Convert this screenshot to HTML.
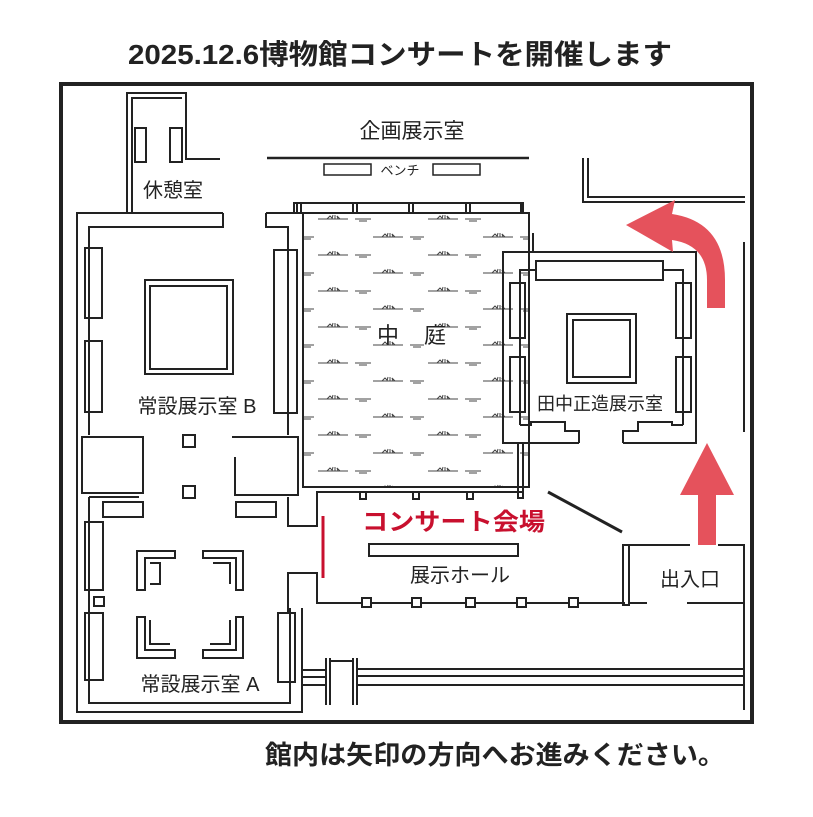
<!DOCTYPE html>
<html><head><meta charset="utf-8"><style>
html,body{margin:0;padding:0;background:#fff;}
svg{display:block}
text{font-family:"Liberation Sans","Noto Sans CJK JP",sans-serif;fill:#222}
</style></head><body>
<svg width="813" height="817" viewBox="0 0 813 817" xmlns="http://www.w3.org/2000/svg">
<defs>
<pattern id="grass" x="315" y="210" width="110" height="36" patternUnits="userSpaceOnUse">
 <g stroke="#444" stroke-width="1" fill="none">
  <path d="M3 9h30M40 9h16M44 11h8"/>
  <path d="M12 9l3-3l2 2M17 9l1-4M20 9l0-4M23 9l-1-3l3 3"/>
  <path d="M58 27h30M95 27h14M98 29h8"/>
  <path d="M67 27l3-3l2 2M72 27l1-4M75 27l0-4M78 27l-1-3l3 3"/>
 </g>
</pattern>
</defs>
<text x="128" y="64" font-size="28" font-weight="bold" textLength="544" lengthAdjust="spacingAndGlyphs" fill="#111">2025.12.6博物館コンサートを開催します</text>
<rect x="61" y="84" width="691" height="638" fill="none" stroke="#222" stroke-width="4"/>
<g fill="none" stroke="#222" stroke-width="2">
 <path d="M127 213V93H186V159H220"/>
 <path d="M132 213V98H182"/>
 <rect x="135" y="128" width="11" height="34"/><rect x="170" y="128" width="12" height="34"/>
 <path d="M267 158H529" stroke-width="2.5"/>
 <rect x="324" y="164" width="47" height="11" stroke-width="1.5"/><rect x="433" y="164" width="47" height="11" stroke-width="1.5"/>
 <path d="M223 213H77V712H302V608"/>
 <path d="M223 213V227H89V435"/>
 <path d="M266 213H303M266 213V227H288V435"/>
 <path d="M89 497V703H290V608"/>
 <rect x="85" y="248" width="17" height="70"/><rect x="85" y="341" width="17" height="71"/>
 <path d="M274 250H297V413H274Z"/>
 <rect x="145" y="280" width="88" height="94"/><rect x="150" y="286" width="77" height="83"/>
 <rect x="183" y="435" width="12" height="12"/><rect x="183" y="486" width="12" height="12"/>
 <path d="M82 437H143V493H82ZM143 457V493"/>
 <path d="M232 437H298V495H235V457"/>
 <path d="M89 497H139"/>
 <rect x="103" y="502" width="40" height="15"/><rect x="236" y="502" width="40" height="15"/>
 <path d="M288 497V526H317V492H523"/>
 <rect x="85" y="522" width="18" height="68"/><rect x="94" y="597" width="10" height="9"/><rect x="85" y="613" width="18" height="67"/>
 <rect x="278" y="613" width="17" height="69"/>
 <path d="M288 613V573H317V603H625"/>
 <path d="M137 551H175V558H145V590H137Z M150 563H160V584H150"/>
 <path d="M203 551H243V590H236V558H203Z M213 563H230V584"/>
 <path d="M137 617H145V650H175V658H137Z M150 620V644H170"/>
 <path d="M236 617H243V658H203V650H236Z M230 620V644H210"/>
 <rect x="303" y="213" width="226" height="274" fill="url(#grass)"/>
 <path d="M294 213V203H523V213"/>
 <path d="M297 203V213M353 203V213M409 203V213M466 203V213M521 203V213M301 203V213M357 203V213M413 203V213M470 203V213"/>
 <path d="M529 233V252M533 233V252"/>
 <path d="M518 443V498H523V443"/>
 <path d="M360 493v6h6v-6M413 493v6h6v-6M467 493v6h6v-6"/>
 <path d="M579 443H503V252H696V443H623"/>
 <path d="M520 425V270H536M663 270H683V425"/>
 <rect x="536" y="261" width="127" height="19"/>
 <rect x="510" y="283" width="15" height="55"/><rect x="510" y="357" width="15" height="55"/>
 <rect x="676" y="283" width="15" height="55"/><rect x="676" y="357" width="15" height="55"/>
 <rect x="567" y="314" width="69" height="69"/><rect x="573" y="320" width="57" height="57"/>
 <path d="M520 425H531V422H565V431H579V443"/>
 <path d="M683 425H672V422H638V431H623V443"/>
 <rect x="369" y="544" width="149" height="12"/>
 <path d="M548 492L622 532" stroke-width="3"/>
 <rect x="362" y="598" width="9" height="9" fill="#fff"/><rect x="412" y="598" width="9" height="9" fill="#fff"/><rect x="466" y="598" width="9" height="9" fill="#fff"/><rect x="517" y="598" width="9" height="9" fill="#fff"/><rect x="569" y="598" width="9" height="9" fill="#fff"/>
 <rect x="623" y="545" width="6" height="60"/>
 <path d="M629 545H690M718 545H744V710M629 603H647M687 603H744"/>
 <path d="M303 670H326M303 677H326M303 685H326M356 669H744M356 676H744M356 685H744"/>
 <path d="M326 658V705M330 658V705M353 658V705M357 658V705M330 661H353"/>
 <path d="M744 242V432"/>
 <path d="M583 158V202H745M588 158V197H745"/>
</g>
<path d="M323 516V578" stroke="#c8102e" stroke-width="3"/>
<path d="M626 225L675 200L672 214Q725 222 725 280L725 308L707 308L707 280Q707 245 672 240L673 252Z" fill="#e5525c"/>
<path d="M698 545V495H680L707 443L734 495H716V545Z" fill="#e5525c"/>
<text x="412" y="138" font-size="21" text-anchor="middle">企画展示室</text>
<text x="400" y="175" font-size="13" text-anchor="middle">ベンチ</text>
<text x="173" y="197" font-size="20" text-anchor="middle">休憩室</text>
<text x="197" y="413" font-size="20" text-anchor="middle">常設展示室 B</text>
<text x="200" y="691" font-size="20" text-anchor="middle">常設展示室 A</text>
<text x="388" y="343" font-size="22" text-anchor="middle">中</text>
<text x="435" y="343" font-size="22" text-anchor="middle">庭</text>
<text x="600" y="410" font-size="18" text-anchor="middle">田中正造展示室</text>
<text x="362" y="530" font-size="24" font-weight="bold" textLength="183" lengthAdjust="spacingAndGlyphs" style="fill:#c8102e">コンサート会場</text>
<text x="460" y="582" font-size="20" text-anchor="middle">展示ホール</text>
<text x="690" y="586" font-size="20" text-anchor="middle">出入口</text>
<text x="265" y="764" font-size="26" font-weight="bold" textLength="460" lengthAdjust="spacingAndGlyphs" fill="#111">館内は矢印の方向へお進みください。</text>
</svg>
</body></html>
